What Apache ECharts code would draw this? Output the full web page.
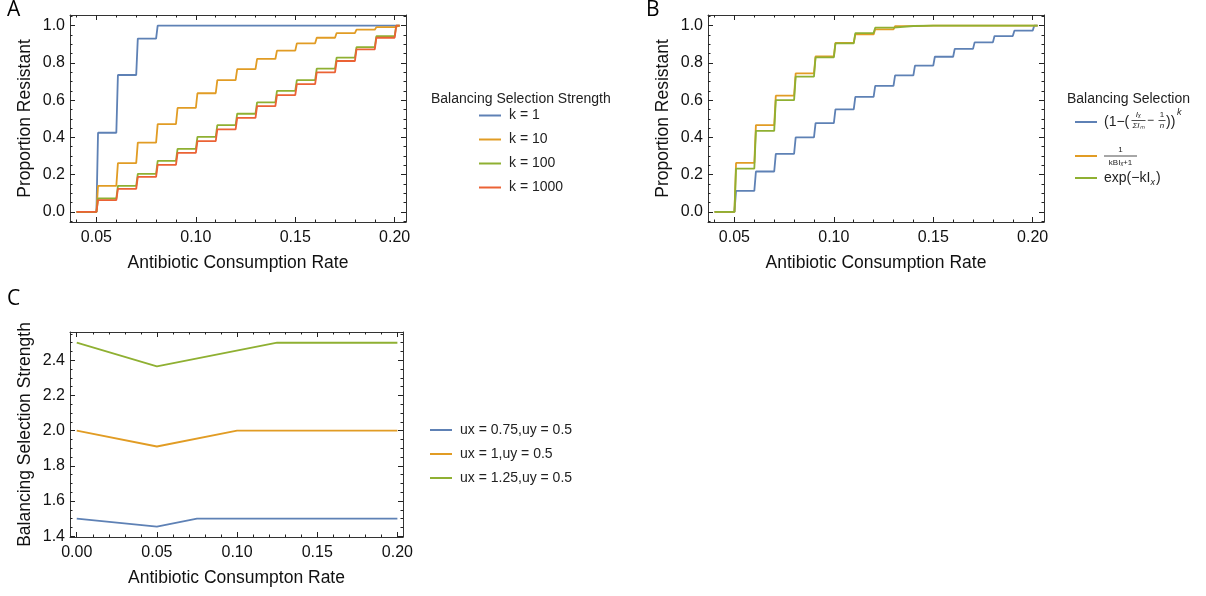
<!DOCTYPE html>
<html>
<head>
<meta charset="utf-8">
<script src="https://cdn.jsdelivr.net/npm/echarts@6/dist/echarts.min.js"></script>
<style>
  html, body { margin: 0; padding: 0; background: #fff; }
  #chart { width: 1206px; height: 596px; }
</style>
</head>
<body>
<div id="chart"></div>
<script>
// step positions shared by panels A and B
var stepX = [0.04, 0.05, 0.06, 0.07, 0.08, 0.09, 0.10, 0.11, 0.12, 0.13, 0.14, 0.15, 0.16, 0.17, 0.18, 0.19, 0.20]
var stepEnd = 0.2025

// panel A, level of each step
var k1 = [0, 0.425, 0.735, 0.93, 1, 1, 1, 1, 1, 1, 1, 1, 1, 1, 1, 1, 1]
var k10 = [0, 0.14, 0.262, 0.372, 0.471, 0.558, 0.637, 0.707, 0.767, 0.821, 0.866, 0.905, 0.935, 0.96, 0.978, 0.992, 1]
var k100 = [0, 0.072, 0.14, 0.204, 0.274, 0.339, 0.403, 0.466, 0.527, 0.588, 0.65, 0.708, 0.769, 0.828, 0.885, 0.943, 1]
var k1000 = [0, 0.063, 0.124, 0.188, 0.253, 0.317, 0.38, 0.443, 0.505, 0.568, 0.627, 0.686, 0.749, 0.81, 0.873, 0.935, 1]

// panel B
var powForm = [0, 0.113, 0.217, 0.312, 0.4, 0.477, 0.55, 0.618, 0.677, 0.733, 0.785, 0.833, 0.875, 0.91, 0.944, 0.973, 1]
var fracForm = [0, 0.263, 0.466, 0.624, 0.744, 0.835, 0.907, 0.953, 0.98, 0.997, 1, 1, 1, 1, 1, 1, 1]
var expForm = [0, 0.233, 0.435, 0.6, 0.726, 0.83, 0.905, 0.96, 0.989, 0.998, 1, 1, 1, 1, 1, 1, 1]

// panel C, [rate, strength]
var ux075 = [[0, 1.5], [0.05, 1.455], [0.075, 1.5], [0.2, 1.5]]
var ux1 = [[0, 2.0], [0.05, 1.91], [0.1, 2.0], [0.2, 2.0]]
var ux125 = [[0, 2.5], [0.05, 2.365], [0.125, 2.5], [0.2, 2.5]]

// ticks
var abMajorX = [0.05, 0.10, 0.15, 0.20]
var abMinorX = [0.04, 0.06, 0.07, 0.08, 0.09, 0.11, 0.12, 0.13, 0.14, 0.16, 0.17, 0.18, 0.19]
var abMajorY = [0, 0.2, 0.4, 0.6, 0.8, 1.0]
var abMinorY = [-0.05, 0.05, 0.1, 0.15, 0.25, 0.3, 0.35, 0.45, 0.5, 0.55, 0.65, 0.7, 0.75, 0.85, 0.9, 0.95, 1.05]
var cMajorX = [0, 0.05, 0.10, 0.15, 0.20]
var cMinorX = [0.01, 0.02, 0.03, 0.04, 0.06, 0.07, 0.08, 0.09, 0.11, 0.12, 0.13, 0.14, 0.16, 0.17, 0.18, 0.19]
var cMajorY = [1.4, 1.6, 1.8, 2.0, 2.2, 2.4]
var cMinorY = [1.45, 1.5, 1.55, 1.65, 1.7, 1.75, 1.85, 1.9, 1.95, 2.05, 2.1, 2.15, 2.25, 2.3, 2.35, 2.45, 2.5, 2.55]

var colors = ["#5E81B5", "#E19C24", "#8FB032", "#EB6235"]
var font = "Liberation Sans"
var frameColor = "#333"

function steps(levels) {
    var pts = []
    for (var i = 0; i < levels.length; i++) {
        var x0 = stepX[i]
        var x1 = i + 1 < stepX.length ? stepX[i + 1] : stepEnd
        pts.push([i === 0 ? x0 : x0 + 0.0008, levels[i]])
        pts.push([x1, levels[i]])
    }
    return pts
}

// one grid gets 4 x axes and 4 y axes: major/minor ticks on every side of the frame
function frameAxes(dim, grid, range, major, minor, digits, name, nameGap) {
    var isX = dim === "x"
    var sides = isX ? ["bottom", "top"] : ["left", "right"]
    var list = []
    sides.forEach(function (side, s) {
        [major, minor].forEach(function (ticks, m) {
            var ax = {
                type: "value",
                gridIndex: grid,
                position: side,
                min: range[0],
                max: range[1],
                splitLine: { show: false },
                axisLine: { show: m === 0, onZero: false, lineStyle: { color: frameColor, width: 1 } },
                axisTick: {
                    show: true, inside: true, customValues: ticks,
                    length: m === 0 ? 5 : 2.5,
                    lineStyle: { color: "#222", width: 1 }
                },
                axisLabel: { show: false },
            }
            if (s === 0 && m === 0) {
                ax.axisLabel = {
                    show: true, customValues: ticks, margin: isX ? 8 : 5,
                    color: "#111", fontFamily: font, fontSize: 16,
                    formatter: function (v) { return v.toFixed(digits) }
                }
                ax.name = name
                ax.nameLocation = "middle"
                ax.nameGap = nameGap
                ax.nameTextStyle = { color: "#111", fontFamily: font, fontSize: 17.5 }
            }
            list.push(ax)
        })
    })
    return list
}

var xAxes = [].concat(
    frameAxes("x", 0, [0.0367, 0.2057], abMajorX, abMinorX, 2, "Antibiotic Consumption Rate", 32),
    frameAxes("x", 1, [0.0367, 0.2057], abMajorX, abMinorX, 2, "Antibiotic Consumption Rate", 32),
    frameAxes("x", 2, [-0.0042, 0.2035], cMajorX, cMinorX, 2, "Antibiotic Consumpton Rate", 32)
)
var yAxes = [].concat(
    frameAxes("y", 0, [-0.054, 1.057], abMajorY, abMinorY, 1, "Proportion Resistant", 36),
    frameAxes("y", 1, [-0.054, 1.057], abMajorY, abMinorY, 1, "Proportion Resistant", 36),
    frameAxes("y", 2, [1.3955, 2.561], cMajorY, cMinorY, 1, "Balancing Selection Strength", 36)
)

function line(name, data, color, grid) {
    return {
        name: name, type: "line", data: data, color: color,
        xAxisIndex: grid * 4, yAxisIndex: grid * 4,
        showSymbol: false, symbol: "none",
        lineStyle: { width: 1.8, color: color },
        animation: false
    }
}

var series = [
    line("k = 1", steps(k1), colors[0], 0),
    line("k = 10", steps(k10), colors[1], 0),
    line("k = 100", steps(k100), colors[2], 0),
    line("k = 1000", steps(k1000), colors[3], 0),
    line("pow", steps(powForm), colors[0], 1),
    line("frac", steps(fracForm), colors[1], 1),
    line("exp", steps(expForm), colors[2], 1),
    line("ux = 0.75,uy = 0.5", ux075, colors[0], 2),
    line("ux = 1,uy = 0.5", ux1, colors[1], 2),
    line("ux = 1.25,uy = 0.5", ux125, colors[2], 2)
]

var legendText = { color: "#222", fontFamily: font, fontSize: 14, padding: [0, 0, 0, 3] }
function oneLegend(name, top) {
    return {
        data: [name], left: 1075, top: top, icon: "rect", padding: 0,
        itemWidth: 22, itemHeight: 2, textStyle: legendText,
        formatter: function () { return " " }, selectedMode: false
    }
}

function txt(x, y, text, size, extra) {
    var st = { text: text, x: 0, y: 0, fill: "#222", font: (extra && extra.italic ? "italic " : "") + size + "px " + font,
        align: (extra && extra.align) || "left", verticalAlign: "middle" }
    return { type: "text", x: x, y: y, style: st, silent: true }
}
function bar(x1, x2, y) {
    return { type: "line", shape: { x1: x1, y1: y, x2: x2, y2: y }, style: { stroke: "#222", lineWidth: 0.8 }, silent: true }
}
function letter(x, y, text) {
    return { type: "text", x: x, y: y, style: { text: text, font: "21px 'Open Sans'", fill: "#000", verticalAlign: "middle" } }
}

var graphics = [
    letter(7, 10, "A"), letter(646, 10, "B"), letter(7, 299, "C"),
    txt(431, 99, "Balancing Selection Strength", 14, {}),
    txt(1067, 99, "Balancing Selection", 14, {}),
    // (1-(Ix/ΣIm - 1/n))^k
    txt(1104, 122, "(1\u2212(", 14, {}),
    txt(1138.5, 114.5, "I\u2093", 8, { italic: true, align: "center" }),
    bar(1131.5, 1145.5, 120.5),
    txt(1138.5, 126, "\u03A3I\u2098", 8, { italic: true, align: "center" }),
    txt(1147, 121, "\u2212", 12, {}),
    txt(1162, 114.5, "1", 8, { align: "center" }),
    bar(1158.5, 1165.5, 120.5),
    txt(1162, 125.5, "n", 8, { italic: true, align: "center" }),
    txt(1166, 122, "))", 14, {}),
    txt(1177, 112.5, "k", 9, { italic: true }),
    // 1/(kBIx+1)
    txt(1120.5, 149.5, "1", 8, { align: "center" }),
    bar(1104, 1137, 156),
    txt(1120.5, 162.5, "kBI\u2093+1", 8, { align: "center" }),
    // exp(-kIx)
    txt(1104, 178.5, "exp(\u2212kI", 14, {}),
    txt(1150.5, 182, "x", 9, { italic: true }),
    txt(1156, 178.5, ")", 14, {})
]

var chart = echarts.init(document.querySelector("#chart"), null, { renderer: "canvas" })
var option = {
    backgroundColor: "#fff",
    animation: false,
    grid: [
        { left: 70, top: 15, width: 336, height: 207, show: false },
        { left: 708, top: 15, width: 336, height: 207, show: false },
        { left: 70, top: 332, width: 333, height: 205, show: false }
    ],
    xAxis: xAxes,
    yAxis: yAxes,
    legend: [
        {
            data: ["k = 1", "k = 10", "k = 100", "k = 1000"],
            orient: "vertical", left: 479, top: 108.5, icon: "rect", padding: 0,
            itemWidth: 22, itemHeight: 2, itemGap: 10, textStyle: legendText, selectedMode: false
        },
        {
            data: ["ux = 0.75,uy = 0.5", "ux = 1,uy = 0.5", "ux = 1.25,uy = 0.5"],
            orient: "vertical", left: 430, top: 423, icon: "rect", padding: 0,
            itemWidth: 22, itemHeight: 2, itemGap: 10, textStyle: legendText, selectedMode: false
        },
        oneLegend("pow", 115),
        oneLegend("frac", 149),
        oneLegend("exp", 171)
    ],
    graphic: graphics,
    series: series
}
chart.setOption(option)
</script>
</body>
</html>
